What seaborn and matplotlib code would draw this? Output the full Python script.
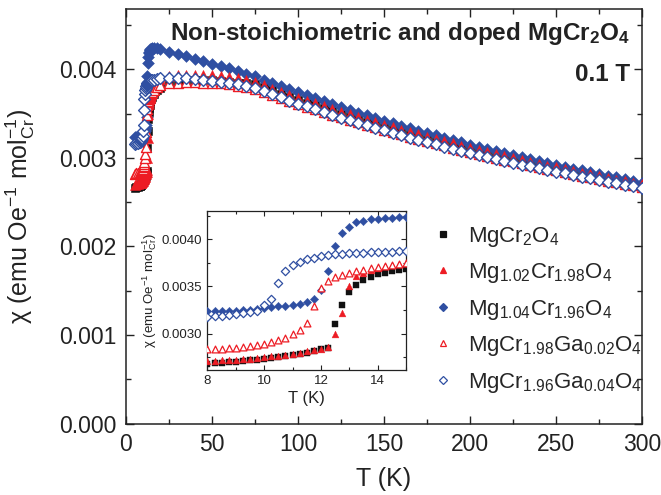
import numpy as np
import pandas as pd
import matplotlib
matplotlib.use("Agg")
import matplotlib.pyplot as plt
from matplotlib.lines import Line2D
from matplotlib.ticker import MultipleLocator, FormatStrFormatter
import seaborn as sns

# ---------------- data ----------------
T_low = [5, 6, 7]
T_inset = [8.0, 8.25, 8.5, 8.75, 9.0, 9.25, 9.5, 9.75, 10.0, 10.25, 10.5, 10.75,
           11.0, 11.25, 11.5, 11.75, 12.0, 12.25, 12.5, 12.75, 13.0, 13.25, 13.5,
           13.75, 14.0, 14.25, 14.5, 14.75, 15.0]
T_high = [16, 18, 20] + list(range(25, 301, 5))

labels = ['MgCr$_2$O$_4$',
          'Mg$_{1.02}$Cr$_{1.98}$O$_4$',
          'Mg$_{1.04}$Cr$_{1.96}$O$_4$',
          'MgCr$_{1.98}$Ga$_{0.02}$O$_4$',
          'MgCr$_{1.96}$Ga$_{0.04}$O$_4$']

# MgCr2O4 (black squares)
blk_low = [0.002660, 0.002670, 0.002676]
blk_inset = [0.002682, 0.002686, 0.002691, 0.002697, 0.002703, 0.002710, 0.002717,
             0.002726, 0.002735, 0.002744, 0.002753, 0.002762, 0.002771, 0.002784,
             0.002800, 0.002818, 0.002833, 0.002850, 0.003106, 0.003307, 0.003441,
             0.003519, 0.003565, 0.003600, 0.003629, 0.003647, 0.003661, 0.003671,
             0.003682]
blk_high = [0.00372, 0.00376, 0.00379, 0.00384, 0.00386, 0.00387, 0.00388, 0.00388,
            0.00388, 0.00387, 0.00386, 0.00385, 0.003845,
            0.003830, 0.003795, 0.003760, 0.003725, 0.003690, 0.003657, 0.003624,
            0.003592, 0.003560, 0.003528, 0.003498, 0.003467, 0.003437, 0.003409,
            0.003379, 0.003351, 0.003324, 0.003296, 0.003269, 0.003243, 0.003216,
            0.003190, 0.003166, 0.003141, 0.003116, 0.003092, 0.003068, 0.003045,
            0.003022, 0.002999, 0.002977, 0.002955, 0.002933, 0.002912, 0.002891,
            0.002870, 0.002850, 0.002829, 0.002809, 0.002790, 0.002771, 0.002751,
            0.002733, 0.002714, 0.002695, 0.002678]

# Mg1.02Cr1.98O4 (red filled triangles)
red_low = [0.002690, 0.002700, 0.002705]
red_inset = [0.002710, 0.002714, 0.002717, 0.002720, 0.002724, 0.002731, 0.002735,
             0.002742, 0.002749, 0.002760, 0.002767, 0.002777, 0.002784, 0.002795,
             0.002812, 0.002827, 0.002838, 0.002860, 0.003000, 0.003223, 0.003500,
             0.003608, 0.003643, 0.003671, 0.003696, 0.003714, 0.003728, 0.003735,
             0.003749]
red_high = [0.00380, 0.00386, 0.00389, 0.00392, 0.00393, 0.00394, 0.00394, 0.00394,
            0.00393, 0.00392, 0.00391, 0.00390, 0.00388,
            0.003854, 0.003817, 0.003782, 0.003747, 0.003712, 0.003679, 0.003646,
            0.003614, 0.003582, 0.003550, 0.003520, 0.003489, 0.003459, 0.003431,
            0.003401, 0.003373, 0.003346, 0.003318, 0.003291, 0.003265, 0.003238,
            0.003212, 0.003188, 0.003163, 0.003138, 0.003114, 0.003090, 0.003067,
            0.003044, 0.003021, 0.002999, 0.002977, 0.002955, 0.002934, 0.002913,
            0.002892, 0.002872, 0.002851, 0.002831, 0.002812, 0.002793, 0.002773,
            0.002755, 0.002736, 0.002717, 0.002700]

# Mg1.04Cr1.96O4 (blue filled diamonds)
blu_low = [0.003240, 0.003240, 0.003240]
blu_inset = [0.003240, 0.003240, 0.003240, 0.003242, 0.003245, 0.003248, 0.003252,
             0.003258, 0.003268, 0.003280, 0.003290, 0.003298, 0.003306, 0.003316,
             0.003333, 0.003371, 0.003460, 0.003664, 0.003929, 0.004067, 0.004134,
             0.004184, 0.004198, 0.004212, 0.004219, 0.004226, 0.004230, 0.004233,
             0.004235]
blu_high = [0.00424, 0.00424, 0.00423, 0.00419, 0.00417, 0.00415, 0.00412, 0.00409,
            0.00406, 0.00404, 0.00401, 0.00398, 0.00395,
            0.003922, 0.003883, 0.003846, 0.003810, 0.003774, 0.003738, 0.003704,
            0.003670, 0.003636, 0.003604, 0.003571, 0.003540, 0.003509, 0.003478,
            0.003448, 0.003419, 0.003390, 0.003361, 0.003333, 0.003306, 0.003279,
            0.003252, 0.003226, 0.003200, 0.003175, 0.003150, 0.003125, 0.003101,
            0.003077, 0.003053, 0.003030, 0.003008, 0.002985, 0.002963, 0.002941,
            0.002920, 0.002899, 0.002878, 0.002857, 0.002837, 0.002817, 0.002797,
            0.002778, 0.002759, 0.002740, 0.002721]

# MgCr1.98Ga0.02O4 (red open triangles)
rdo_low = [0.002820, 0.002830, 0.002832]
rdo_inset = [0.002834, 0.002834, 0.002840, 0.002844, 0.002848, 0.002855, 0.002865,
             0.002876, 0.002894, 0.002911, 0.002929, 0.002954, 0.002997, 0.003043,
             0.003118, 0.003290, 0.003484, 0.003555, 0.003597, 0.003626, 0.003647,
             0.003664, 0.003678, 0.003692, 0.003703, 0.003712, 0.003724, 0.003735,
             0.003746]
rdo_high = [0.00377, 0.00380, 0.00382, 0.00384, 0.00385, 0.00386, 0.00386, 0.00385,
            0.00385, 0.00384, 0.00383, 0.00381, 0.00380,
            0.003777, 0.003741, 0.003708, 0.003675, 0.003641, 0.003610, 0.003578,
            0.003548, 0.003517, 0.003486, 0.003457, 0.003428, 0.003399, 0.003372,
            0.003344, 0.003317, 0.003291, 0.003264, 0.003238, 0.003213, 0.003187,
            0.003163, 0.003140, 0.003116, 0.003092, 0.003069, 0.003046, 0.003024,
            0.003002, 0.002980, 0.002959, 0.002938, 0.002917, 0.002897, 0.002877,
            0.002857, 0.002838, 0.002817, 0.002798, 0.002780, 0.002762, 0.002743,
            0.002726, 0.002708, 0.002689, 0.002673]

# MgCr1.96Ga0.04O4 (blue open diamonds)
blo_low = [0.003160, 0.003170, 0.003172]
blo_inset = [0.003176, 0.003183, 0.003190, 0.003200, 0.003207, 0.003218, 0.003229,
             0.003245, 0.003300, 0.003367, 0.003540, 0.003668, 0.003724, 0.003760,
             0.003790, 0.003806, 0.003820, 0.003830, 0.003840, 0.003844, 0.003851,
             0.003855, 0.003859, 0.003861, 0.003865, 0.003867, 0.003870, 0.003873,
             0.003876]
blo_high = [0.00388, 0.00389, 0.00390, 0.00390, 0.00390, 0.00390, 0.00389, 0.00388,
            0.00387, 0.00386, 0.00384, 0.00383, 0.00381,
            0.003790, 0.003752, 0.003716, 0.003681, 0.003646, 0.003613, 0.003580,
            0.003548, 0.003516, 0.003484, 0.003454, 0.003424, 0.003394, 0.003366,
            0.003337, 0.003309, 0.003282, 0.003255, 0.003228, 0.003202, 0.003176,
            0.003151, 0.003127, 0.003103, 0.003079, 0.003055, 0.003032, 0.003010,
            0.002988, 0.002966, 0.002945, 0.002924, 0.002903, 0.002883, 0.002863,
            0.002843, 0.002824, 0.002804, 0.002785, 0.002767, 0.002749, 0.002731,
            0.002713, 0.002695, 0.002677, 0.002660]

# ---------------- style ----------------
sns.set_style("ticks")
plt.rcParams['font.family'] = ['Liberation Sans', 'DejaVu Sans']
plt.rcParams['mathtext.fontset'] = 'custom'
plt.rcParams['mathtext.rm'] = 'Liberation Sans'
plt.rcParams['mathtext.it'] = 'Liberation Sans:italic'
plt.rcParams['mathtext.bf'] = 'Liberation Sans:bold'
plt.rcParams['mathtext.default'] = 'regular'
plt.rcParams['axes.unicode_minus'] = True

BLACK = '#111111'
RED = '#ED1C24'
BLUE = '#2F4FA2'

# series spec: (index, low, inset, high, marker, color, filled) in drawing order
series = [
    (0, blk_low, blk_inset, blk_high, 's', BLACK, True),
    (2, blu_low, blu_inset, blu_high, 'D', BLUE, True),
    (1, red_low, red_inset, red_high, '^', RED, True),
    (3, rdo_low, rdo_inset, rdo_high, '^', RED, False),
    (4, blo_low, blo_inset, blo_high, 'D', BLUE, False),
]
main_size = {'s': 30, '^': 52, 'D': 36}
ins_size = {'s': 20, '^': 24, 'D': 18}

fig = plt.figure(figsize=(6.61, 4.95), dpi=100)
ax = fig.add_axes([0.1906, 0.1444, 0.7807, 0.8374])
axin = fig.add_axes([0.3139, 0.2535, 0.3003, 0.3202])

for idx, lo, ins, hi, mk, col, filled in series:
    df = pd.DataFrame({'T': T_low + T_inset + T_high, 'chi': lo + ins + hi})
    dfi = pd.DataFrame({'T': T_inset, 'chi': ins})
    if filled:
        kw = dict(color=col, edgecolor=col, linewidth=0.4)
        kwi = dict(color=col, edgecolor=col, linewidth=0.3)
    else:
        kw = dict(facecolor='white', edgecolor=col, linewidth=1.0)
        kwi = dict(facecolor='white', edgecolor=col, linewidth=0.9)
    sns.scatterplot(data=df, x='T', y='chi', ax=ax, marker=mk, s=main_size[mk],
                    legend=False, zorder=3, **kw)
    sns.scatterplot(data=dfi, x='T', y='chi', ax=axin, marker=mk, s=ins_size[mk],
                    legend=False, zorder=3, **kwi)

# ---------------- main axes ----------------
ax.set_xlim(0, 300)
ax.set_ylim(0, 0.00468)
ax.xaxis.set_major_locator(MultipleLocator(50))
ax.xaxis.set_minor_locator(MultipleLocator(25))
ax.yaxis.set_major_locator(MultipleLocator(0.001))
ax.yaxis.set_minor_locator(MultipleLocator(0.0005))
ax.yaxis.set_major_formatter(FormatStrFormatter('%.3f'))
ax.tick_params(which='both', direction='in', top=True, right=True,
               width=1.0, labelsize=16.5, pad=7, colors='#222222')
ax.tick_params(which='major', length=5.5)
ax.tick_params(which='minor', length=3.5)
for sp in ax.spines.values():
    sp.set_linewidth(1.1)
    sp.set_color('#222222')
ax.set_xlabel('T (K)', fontsize=18, labelpad=8, color='#222222')
ax.set_ylabel('χ (emu Oe$^{-1}$ mol$^{-1}_{Cr}$)', fontsize=18, color='#222222')
ax.yaxis.set_label_coords(-0.172, 0.5)

ax.text(0.977, 0.94, 'Non-stoichiometric and doped MgCr$_\\mathbf{2}$O$_\\mathbf{4}$',
        transform=ax.transAxes, ha='right', va='center', fontsize=17.5,
        fontweight='bold', color='#222222')
ax.text(0.977, 0.841, '0.1 T', transform=ax.transAxes, ha='right', va='center',
        fontsize=17.5, fontweight='bold', color='#222222')

# ---------------- inset ----------------
axin.set_facecolor('white')
axin.set_xlim(8, 15)
axin.set_ylim(0.00262, 0.0043)
axin.xaxis.set_major_locator(MultipleLocator(2))
axin.xaxis.set_minor_locator(MultipleLocator(1))
axin.yaxis.set_major_locator(MultipleLocator(0.0005))
axin.yaxis.set_minor_locator(MultipleLocator(0.00025))
axin.yaxis.set_major_formatter(FormatStrFormatter('%.4f'))
axin.tick_params(which='both', direction='in', top=True, right=True,
                 width=0.8, labelsize=9.5, pad=4, colors='#222222')
axin.tick_params(which='major', length=3.5)
axin.tick_params(which='minor', length=2)
for sp in axin.spines.values():
    sp.set_linewidth(0.9)
    sp.set_color('#222222')
axin.set_xlabel('T (K)', fontsize=12, labelpad=3, color='#222222')
axin.set_ylabel('χ (emu Oe$^{-1}$ mol$^{-1}_{Cr}$)', fontsize=9.5, labelpad=2,
                color='#222222')

# ---------------- legend ----------------
leg_style = {0: ('s', BLACK, True), 1: ('^', RED, True), 2: ('D', BLUE, True),
             3: ('^', RED, False), 4: ('D', BLUE, False)}
handles = []
for i in range(5):
    mk, col, filled = leg_style[i]
    handles.append(Line2D([], [], linestyle='none', marker=mk,
                          markersize=5 if mk != 'D' else 4.2,
                          markerfacecolor=col if filled else 'white',
                          markeredgecolor=col, markeredgewidth=0.9))
fig.legend(handles, labels, loc='upper left', bbox_to_anchor=(0.6536, 0.546),
           bbox_transform=fig.transFigure, frameon=False, fontsize=16,
           handlelength=1.0, handletextpad=0.6, labelspacing=0.56,
           borderpad=0, borderaxespad=0)

fig.savefig('out.png', dpi=100)
